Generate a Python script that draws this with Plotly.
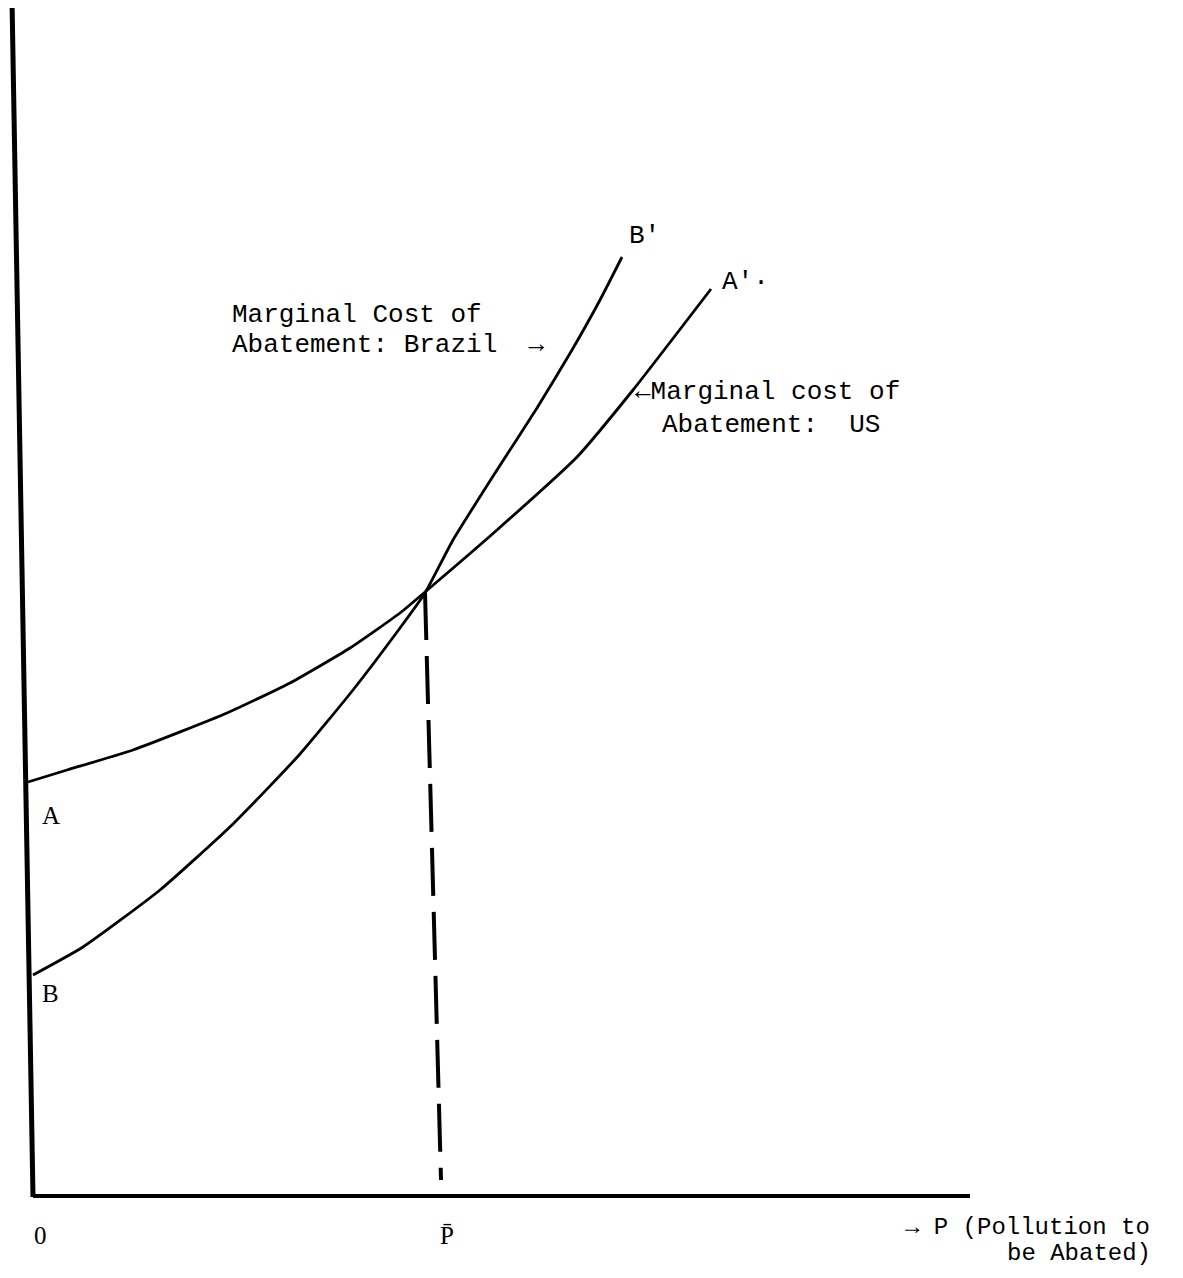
import plotly.graph_objects as go

# Marginal cost of abatement curves
# x = pollution abated, y = marginal cost (arbitrary units, origin at 0)
us_x = [-0.05, 0.34, 1.00, 1.94, 2.57, 3.17, 3.67, 3.92, 4.64, 5.44, 6.00, 6.78]
us_y = [4.13, 4.25, 4.45, 4.82, 5.12, 5.47, 5.82, 6.03, 6.65, 7.38, 8.05, 9.06]

brazil_x = [0.00, 0.50, 1.27, 2.00, 2.67, 3.20, 3.67, 3.92, 4.20, 4.64, 5.04, 5.39, 5.67, 5.89]
brazil_y = [2.20, 2.48, 3.05, 3.71, 4.41, 5.05, 5.67, 6.02, 6.55, 7.25, 7.87, 8.45, 8.95, 9.38]

# P-bar: where the two curves cross, dropped to the axis
pbar_x = [3.92, 4.08]
pbar_y = [6.03, 0.15]

MONO = "Liberation Mono"
SERIF = "Liberation Serif"

fig = go.Figure()

# Axes drawn by hand, like the original sketch
fig.add_trace(go.Scatter(x=[-0.21, 0.0], y=[11.95, -0.02], mode="lines",
                         line=dict(color="black", width=5), hoverinfo="skip"))
fig.add_trace(go.Scatter(x=[0.0, 9.37], y=[-0.01, -0.01], mode="lines",
                         line=dict(color="black", width=4), hoverinfo="skip"))

fig.add_trace(go.Scatter(x=us_x, y=us_y, mode="lines", name="US",
                         line=dict(color="black", width=2.8, shape="spline", smoothing=0.5)))
fig.add_trace(go.Scatter(x=brazil_x, y=brazil_y, mode="lines", name="Brazil",
                         line=dict(color="black", width=2.8, shape="spline", smoothing=0.5)))
fig.add_trace(go.Scatter(x=pbar_x, y=pbar_y, mode="lines", name="P-bar",
                         line=dict(color="black", width=4, dash="48px,16px")))


def label(x, y, text, family=MONO, size=26, anchor="left"):
    fig.add_annotation(x=x, y=y, text=text, showarrow=False, xanchor=anchor,
                       yanchor="middle", align="left",
                       font=dict(family=family, size=size, color="black"))


label(5.94, 9.59, "B'")
label(6.87, 9.13, "A'·")
label(1.97, 8.80, "Marginal Cost of")
label(1.97, 8.50, "Abatement: Brazil  →")
label(6.00, 8.03, "←Marginal cost of")
label(6.27, 7.70, "Abatement:  US")

label(0.07, 3.80, "A", family=SERIF, size=25)
label(0.07, 2.02, "B", family=SERIF, size=25)
label(0.07, -0.40, "0", family=SERIF, size=25, anchor="center")
label(4.14, -0.40, "P\u0304", family=SERIF, size=25, anchor="center")
label(8.70, -0.32, "→ P (Pollution to", size=24)
label(9.72, -0.58, "be Abated)", size=24)

# page body adds an 8px margin, so the figure is sized to fit inside the window
fig.update_layout(
    width=1167,
    height=1262,
    margin=dict(l=0, r=0, t=0, b=0),
    paper_bgcolor="white",
    plot_bgcolor="white",
    showlegend=False,
    xaxis=dict(range=[-0.25, 11.42], visible=False),
    yaxis=dict(range=[-0.75, 11.87], visible=False),
)

fig.write_html("out.html")
